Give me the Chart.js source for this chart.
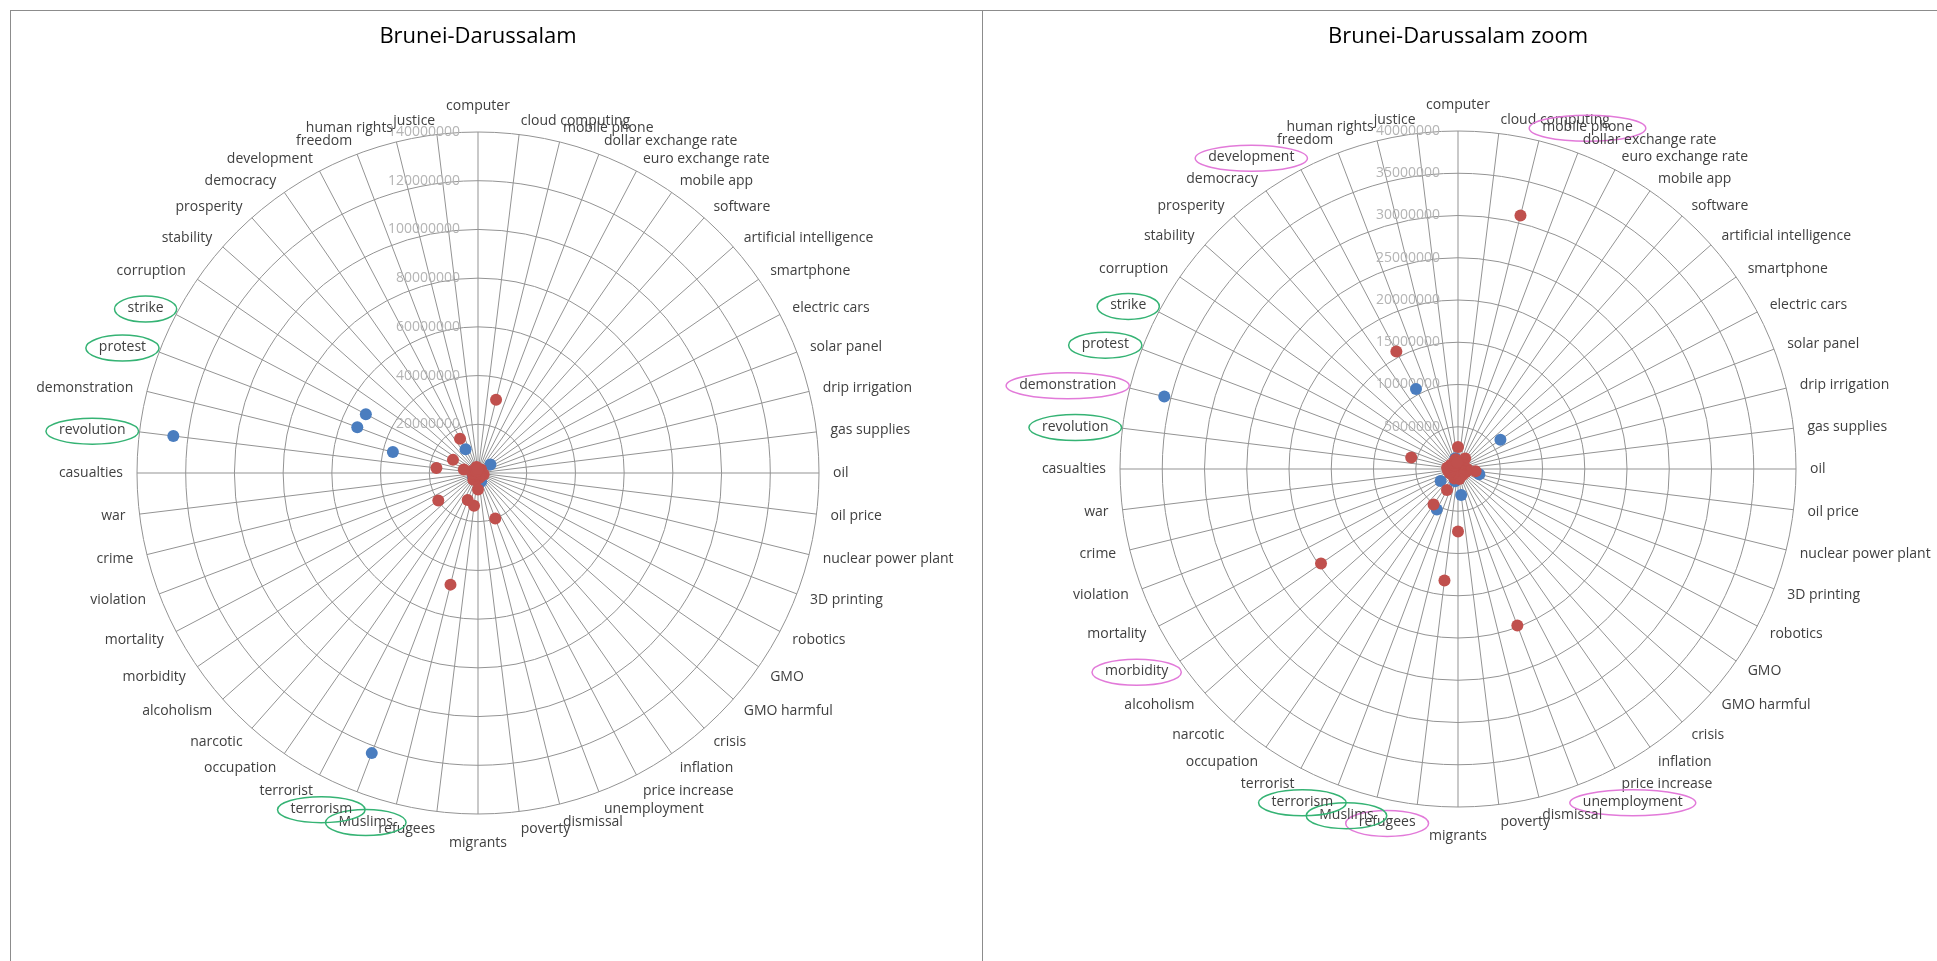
<!DOCTYPE html>
<html>
<head>
<meta charset="utf-8">
<title>Brunei-Darussalam</title>
<script src="https://cdn.jsdelivr.net/npm/chart.js@4.4.0/dist/chart.umd.min.js"></script>
<style>
  html, body { margin: 0; padding: 0; background: #fff; }
  #page { position: relative; width: 1937px; height: 961px; overflow: hidden; }
  .panel { position: absolute; top: 10px; height: 960px; border-top: 1px solid #8c8c8c; box-sizing: border-box; }
  #leftPanel { left: 10px; width: 973px; border-left: 1px solid #8c8c8c; border-right: 1px solid #8c8c8c; }
  #rightPanel { left: 983px; width: 954px; }
  canvas { position: absolute; }
  #bigChart { left: 11px; top: 11px; }
  #zoomChart { left: 983px; top: 11px; }
</style>
</head>
<body>
<div id="page">
  <div class="panel" id="leftPanel"></div>
  <div class="panel" id="rightPanel"></div>
  <canvas id="bigChart" width="971" height="950"></canvas>
  <canvas id="zoomChart" width="954" height="950"></canvas>
</div>
<script>
const categories = [
    'computer', 'cloud computing', 'mobile phone', 'dollar exchange rate', 'euro exchange rate',
    'mobile app', 'software', 'artificial intelligence', 'smartphone', 'electric cars',
    'solar panel', 'drip irrigation', 'gas supplies', 'oil', 'oil price',
    'nuclear power plant', '3D printing', 'robotics', 'GMO', 'GMO harmful',
    'crisis', 'inflation', 'price increase', 'unemployment', 'dismissal',
    'poverty', 'migrants', 'refugees', 'Muslims', 'terrorism',
    'terrorist', 'occupation', 'narcotic', 'alcoholism', 'morbidity',
    'mortality', 'violation', 'crime', 'war', 'casualties',
    'revolution', 'demonstration', 'protest', 'strike', 'corruption',
    'stability', 'prosperity', 'democracy', 'development', 'freedom',
    'human rights', 'justice'
];

// full chart, 0..140000000
const bigBlue = [
    400000, 300000, 900000, 200000, 200000,
    500000, 600000, 800000, 6200000, 300000,
    200000, 100000, 300000, 500000, 1200000,
    700000, 200000, 300000, 100000, 100000,
    900000, 400000, 600000, 3700000, 500000,
    1500000, 1200000, 900000, 1800000, 123000000,
    2400000, 1000000, 400000, 300000, 2500000,
    700000, 500000, 800000, 1100000, 1300000,
    126000000, 36000000, 53000000, 52000000, 900000,
    600000, 400000, 700000, 11000000, 1200000,
    800000, 600000
];
const bigRed = [
    1200000, 800000, 31000000, 600000, 500000,
    1500000, 1900000, 1000000, 1300000, 700000,
    500000, 400000, 800000, 1400000, 1800000,
    2400000, 900000, 600000, 400000, 500000,
    1600000, 1100000, 1700000, 20000000, 1400000,
    2200000, 6800000, 13500000, 47200000, 11900000,
    2600000, 3400000, 1200000, 1500000, 19800000,
    2200000, 1400000, 1800000, 2000000, 2300000,
    17200000, 6000000, 2500000, 11600000, 1900000,
    1300000, 1000000, 1600000, 15900000, 2000000,
    2500000, 1700000
];

// zoomed chart, 0..40000000
const zoomBlue = [
    300000, 200000, 600000, 150000, 150000,
    400000, 500000, 700000, 6100000, 200000,
    150000, 100000, 200000, 400000, 900000,
    2600000, 200000, 250000, 100000, 100000,
    700000, 300000, 500000, 900000, 400000,
    3100000, 1000000, 700000, 1500000, 123000000,
    5400000, 800000, 300000, 200000, 2500000,
    500000, 400000, 600000, 900000, 1100000,
    126000000, 35800000, 53000000, 52000000, 700000,
    500000, 300000, 600000, 10700000, 1000000,
    1300000, 500000
];
const zoomRed = [
    2600000, 600000, 30900000, 400000, 500000,
    1500000, 900000, 700000, 800000, 500000,
    300000, 300000, 600000, 1100000, 2100000,
    1000000, 1000000, 400000, 300000, 300000,
    900000, 600000, 800000, 19800000, 700000,
    1200000, 7400000, 13300000, 47000000, 1200000,
    2800000, 5100000, 700000, 800000, 19700000,
    1100000, 1000000, 900000, 1200000, 1000000,
    1300000, 5700000, 900000, 1000000, 800000,
    700000, 600000, 900000, 15700000, 1000000,
    1200000, 800000
];

const greenMarked = ['strike', 'protest', 'revolution', 'terrorism', 'Muslims'];
const pinkMarked = ['mobile phone', 'development', 'demonstration', 'morbidity', 'refugees', 'unemployment'];

const BLUE = '#4a7dbf';
const RED = '#c0504d';
const GRID = '#939393';
const FONT = '"Open Sans", "Noto Sans", sans-serif';

// titles, point labels, tick labels and the hand-drawn rings round some labels
const decorations = {
    id: 'decorations',
    beforeDatasetsDraw(chart, args, opts) {
        const scale = chart.scales.r;
        const ctx = chart.ctx;
        const n = chart.data.labels.length;
        ctx.save();

        ctx.font = '22px ' + FONT;
        ctx.fillStyle = '#000';
        ctx.textAlign = 'center';
        ctx.textBaseline = 'middle';
        ctx.fillText(opts.title, scale.xCenter, opts.titleY);

        ctx.font = '14px ' + FONT;
        ctx.fillStyle = '#b4b4b4';
        ctx.textAlign = 'right';
        scale.ticks.forEach(t => {
            if (t.value === 0) return;
            const d = scale.getDistanceFromCenterForValue(t.value);
            ctx.fillText(String(t.value), scale.xCenter - 18, scale.yCenter - d);
        });

        ctx.font = '14px ' + FONT;
        ctx.fillStyle = '#404040';
        chart.data.labels.forEach((label, i) => {
            const deg = i * 360 / n;
            const p = scale.getPointPosition(i, scale.drawingArea + 14);
            let align = deg < 180 ? 'left' : 'right';
            let base = 'middle';
            // labels in the lower half sit a little further out
            let y = p.y + Math.max(0, -Math.cos(deg * Math.PI / 180)) * 4;
            if (deg === 0) { align = 'center'; base = 'bottom'; y = p.y - 5; }
            if (deg === 180) { align = 'center'; base = 'top'; y = p.y + 8; }
            ctx.textAlign = align;
            ctx.textBaseline = base;
            ctx.fillText(label, p.x, y);

            let ring = null;
            if (opts.green.includes(label)) ring = '#35b374';
            if (opts.pink.includes(label)) ring = '#e27ad9';
            if (!ring) return;
            const w = ctx.measureText(label).width;
            let cx = p.x;
            if (align === 'left') cx = p.x + w / 2;
            if (align === 'right') cx = p.x - w / 2;
            let cy = y;
            if (base === 'bottom') cy = y - 10;
            if (base === 'top') cy = y + 10;
            ctx.beginPath();
            ctx.ellipse(cx, cy + 1, w / 2 + 13, 13, 0, 0, Math.PI * 2);
            ctx.strokeStyle = ring;
            ctx.lineWidth = 1.5;
            ctx.stroke();
        });
        ctx.restore();
    }
};

function makeChart(id, title, blue, red, max, step, padding, marks) {
    const ctx = document.getElementById(id).getContext('2d');
    const onScale = v => (v <= max ? v : null);
    return new Chart(ctx, {
        type: 'radar',
        data: {
            labels: categories,
            datasets: [{
                label: 'red',
                data: red.map(onScale),
                showLine: false,
                fill: false,
                pointRadius: 6,
                pointBorderWidth: 0,
                pointBackgroundColor: RED,
                pointBorderColor: RED,
                order: 0,
            }, {
                label: 'blue',
                data: blue.map(onScale),
                showLine: false,
                fill: false,
                pointRadius: 6,
                pointBorderWidth: 0,
                pointBackgroundColor: BLUE,
                pointBorderColor: BLUE,
                order: 1,
            }]
        },
        options: {
            responsive: false,
            animation: false,
            layout: { padding: padding },
            plugins: {
                legend: { display: false },
                tooltip: { enabled: false },
                decorations: { title: title, titleY: 26, green: marks.green, pink: marks.pink },
            },
            scales: {
                r: {
                    min: 0,
                    max: max,
                    ticks: { stepSize: step, display: false },
                    grid: { circular: true, color: GRID, lineWidth: 1 },
                    angleLines: { color: GRID, lineWidth: 1 },
                    pointLabels: { display: false },
                }
            }
        },
        plugins: [decorations]
    });
}

makeChart('bigChart', 'Brunei-Darussalam', bigBlue, bigRed, 140000000, 20000000,
    { left: 126, top: 121, right: 162, bottom: 146 },
    { green: greenMarked, pink: [] });

makeChart('zoomChart', 'Brunei-Darussalam zoom', zoomBlue, zoomRed, 40000000, 5000000,
    { left: 137, top: 120, right: 141, bottom: 154 },
    { green: greenMarked, pink: pinkMarked });
</script>
</body>
</html>
